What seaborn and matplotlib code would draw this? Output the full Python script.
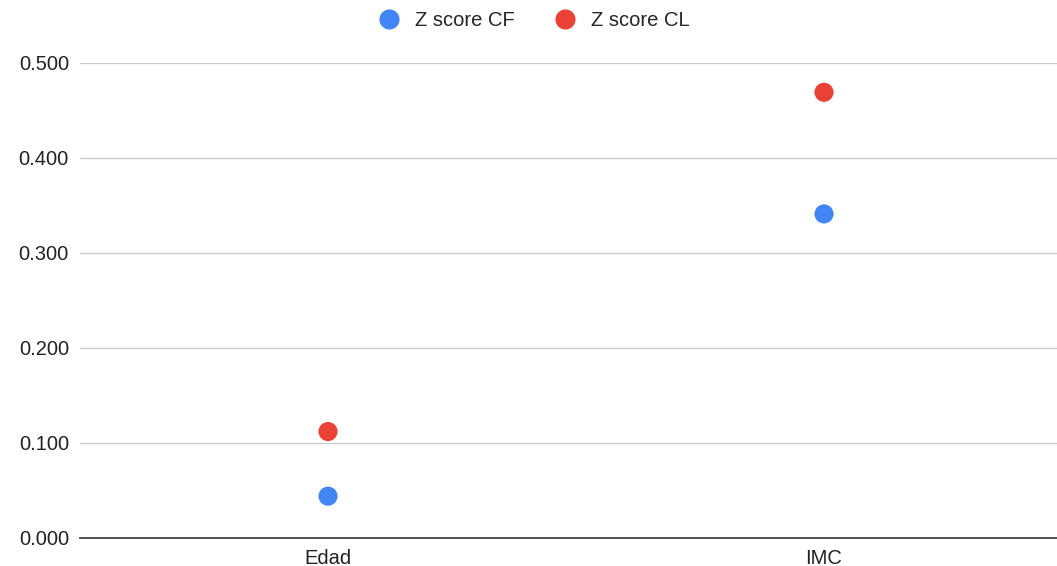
import pandas as pd
import matplotlib.pyplot as plt
import seaborn as sns

# datos
categorias = ['Edad', 'IMC']
z_cf = [0.044, 0.341]
z_cl = [0.112, 0.469]

df = pd.DataFrame({
    'variable': categorias * 2,
    'valor': z_cf + z_cl,
    'serie': ['Z score CF'] * 2 + ['Z score CL'] * 2,
})

sns.set_style('white')
plt.rcParams['font.family'] = ['Liberation Sans', 'DejaVu Sans']

fig = plt.figure(figsize=(10.57, 5.66), dpi=100)
ax = fig.add_axes([0.0757, 0.0495, 0.9385, 0.8395])

sns.scatterplot(data=df, x='variable', y='valor', hue='serie',
                palette=['#4285f4', '#ea4335'], s=190, edgecolor='none', ax=ax)

ax.set_xlim(-0.5, 1.5)
ax.set_ylim(0, 0.5)
ax.set_yticks([0, 0.1, 0.2, 0.3, 0.4, 0.5])
ax.set_yticklabels(['0.000', '0.100', '0.200', '0.300', '0.400', '0.500'])
ax.yaxis.grid(True, color='#cccccc', linewidth=1)
ax.set_axisbelow(True)
ax.tick_params(axis='both', labelsize=14.5, colors='#222222', length=0, pad=8)
ax.set_xlabel('')
ax.set_ylabel('')
for lado in ['top', 'right', 'left']:
    ax.spines[lado].set_visible(False)
ax.spines['bottom'].set_color('#333333')
ax.spines['bottom'].set_linewidth(1.2)

ax.legend(loc='lower center', bbox_to_anchor=(0.453, 1.03), ncol=2, frameon=False,
          fontsize=14.5, markerscale=1.05, handletextpad=0.3, columnspacing=1.5)

fig.savefig('out.png', dpi=100)
